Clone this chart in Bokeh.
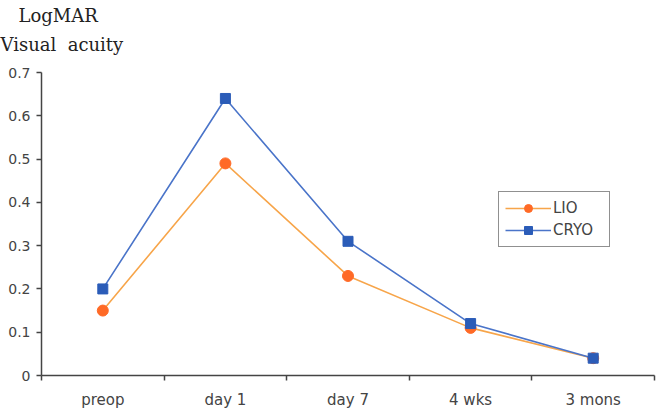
from bokeh.plotting import figure
from bokeh.models import FixedTicker, Title, Range1d
from bokeh.embed import file_html
from bokeh.resources import INLINE

# Follow-up time points and mean LogMAR visual acuity per group
periods = ["preop", "day 1", "day 7", "4 wks", "3 mons"]
lio = [0.15, 0.49, 0.23, 0.11, 0.04]
cryo = [0.20, 0.64, 0.31, 0.12, 0.04]
y_ticks = [0, 0.1, 0.2, 0.3, 0.4, 0.5, 0.6, 0.7]
caption = ["LogMAR", "Visual\u00a0 acuity"]

xs = [i + 0.5 for i in range(len(periods))]

p = figure(width=668, height=414, output_backend="svg", toolbar_location=None,
           x_range=Range1d(0, len(periods)), y_range=Range1d(0, 0.7),
           min_border_left=41, min_border_right=14, min_border_top=72,
           min_border_bottom=39)
p.outline_line_color = None
p.grid.visible = False
p.background_fill_color = "white"
p.border_fill_color = "white"

axis_color = "#444444"
text_color = "#444444"
label_font = "DejaVu Sans"

# x axis: labels at category centres, ticks at category boundaries
xa = p.xaxis[0]
xa.ticker = FixedTicker(ticks=xs, minor_ticks=list(range(len(periods) + 1)))
xa.major_label_overrides = {x: lab for x, lab in zip(xs, periods)}
xa.major_tick_out = 0
xa.major_tick_in = 0
xa.minor_tick_out = 5
xa.minor_tick_in = 0
xa.minor_tick_line_color = axis_color
xa.minor_tick_line_width = 1.5
xa.axis_line_color = axis_color
xa.axis_line_width = 1.5
xa.major_label_standoff = 10
xa.major_label_text_font = label_font
xa.major_label_text_font_size = "15px"
xa.major_label_text_color = text_color

ya = p.yaxis[0]
ya.ticker = FixedTicker(ticks=y_ticks, minor_ticks=[])
ya.major_label_overrides = {t: ("0" if t == 0 else f"{t:.1f}") for t in y_ticks}
ya.major_tick_out = 5
ya.major_tick_in = 0
ya.major_tick_line_color = axis_color
ya.major_tick_line_width = 1.5
ya.axis_line_color = axis_color
ya.axis_line_width = 1.5
ya.major_label_standoff = 6
ya.major_label_text_font = label_font
ya.major_label_text_font_size = "14px"
ya.major_label_text_color = text_color

# series
p.line(xs, lio, line_color="#F7A54A", line_width=1.6, legend_label="LIO")
p.scatter(xs, lio, marker="circle", size=11, fill_color="#FF6A26",
          line_color="#FF6A26", legend_label="LIO")
p.line(xs, cryo, line_color="#4A74C9", line_width=1.6, legend_label="CRYO")
p.scatter(xs, cryo, marker="square", size=10, fill_color="#2B5CB8",
          line_color="#2B5CB8", legend_label="CRYO")

lg = p.legend[0]
lg.location = (457, 128)
lg.margin = 0
lg.padding = 6
lg.spacing = 2
lg.glyph_width = 46
lg.glyph_height = 20
lg.label_height = 20
lg.label_width = 50
lg.label_standoff = 2
lg.label_text_font = label_font
lg.label_text_font_size = "15px"
lg.label_text_color = text_color
lg.border_line_color = "#222222"
lg.border_line_width = 1
lg.background_fill_alpha = 1

# y-axis caption, two lines stacked above the frame at its left edge
title_style = dict(align="left", text_font="DejaVu Serif",
                   text_font_size="18px", text_font_style="normal",
                   text_color="#222222")
p.title.text = caption[0]
p.title.vertical_align = "bottom"
p.title.standoff = -16
p.title.offset = -23
for k, v in title_style.items():
    setattr(p.title, k, v)
p.add_layout(Title(text=caption[1], vertical_align="top", standoff=32,
                   offset=-41, **title_style), "above")

open("out.html", "w").write(file_html(p, INLINE))
